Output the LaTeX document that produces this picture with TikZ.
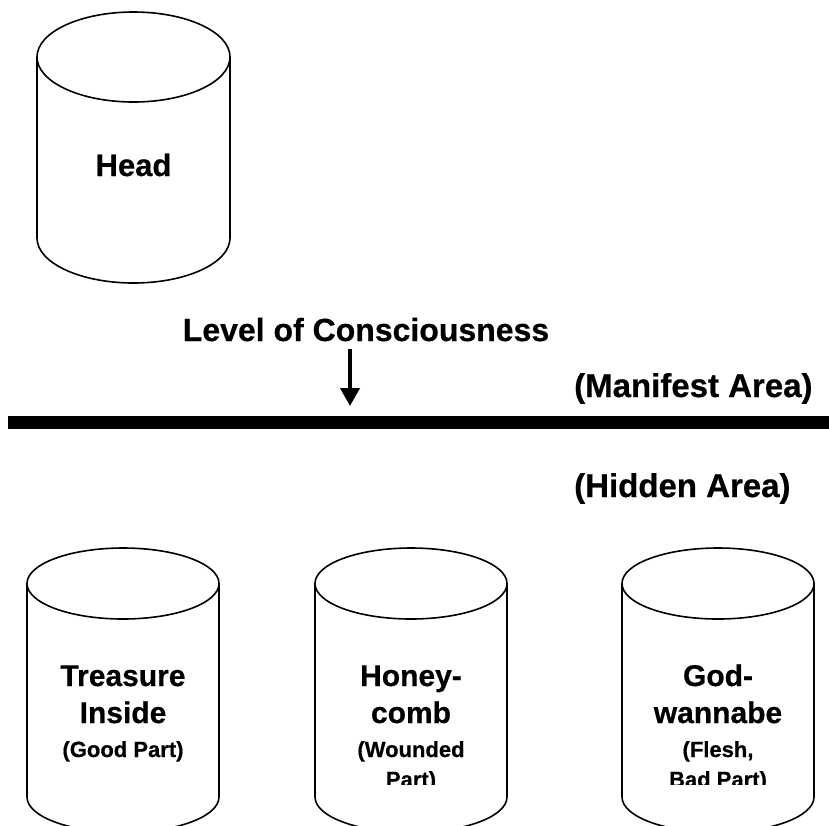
\documentclass[tikz,border=0pt]{standalone}
\usepackage{fontspec}
\setmainfont{Liberation Sans}[BoldFeatures={FakeBold=0.6}]
\usetikzlibrary{arrows.meta}
\tikzset{
  cyl/.style={draw=black, line width=1.6pt},
  lbl/.style={inner sep=0pt, anchor=base, font=\bfseries},
  big/.style={lbl, font=\bfseries\fontsize{30}{30}\selectfont},
  small/.style={lbl, font=\bfseries\fontsize{22}{22}\selectfont},
  head/.style={lbl, font=\bfseries\fontsize{31}{31}\selectfont},
  title/.style={lbl, font=\bfseries\fontsize{32}{32}\selectfont},
  area/.style={inner sep=0pt, anchor=base west, font=\bfseries\fontsize{33}{33}\selectfont},
}
\newcommand{\mycyl}[6]{% cx, top cy, bottom cy, rx, ry, name
  \draw[cyl] (#1,#2) ellipse [x radius=#4pt, y radius=#5pt];
  \draw[cyl] (#1-#4,#2) -- (#1-#4,#3)
     arc [start angle=180, end angle=360, x radius=#4pt, y radius=#5pt]
     -- (#1+#4,#2);
  \coordinate (#6) at (#1,#2);
}
\begin{document}
\begin{tikzpicture}[x=1pt,y=-1pt]
\useasboundingbox (0,0) rectangle (829,825);
\clip (0,0) rectangle (829,825);

% Head cylinder
\mycyl{133.5}{57}{238}{96.5}{45}{headcyl}
\node[head] (headtxt) at (133.5,176) {Head};

% Consciousness line
\node[title] (level) at (366,341) {Level of Consciousness};
\coordinate (arrtop) at (350,349);
\coordinate (arrtip) at (350,406);
\draw[line width=4pt, -{Triangle[width=19pt,length=18pt]}] (arrtop) -- (arrtip);
\coordinate (lineL) at (8,422.3);
\coordinate (lineR) at (829,422.3);
\draw[line width=12.5pt] (lineL) -- (lineR);
\node[area] (manifest) at (574,397) {(Manifest Area)};
\node[area] (hidden) at (574,497) {(Hidden Area)};

% Bottom cylinders
\mycyl{123}{583.5}{797}{96}{35.5}{c1}
\mycyl{411}{583.5}{797}{96}{35.5}{c2}
\mycyl{718}{583.5}{797}{96}{35.5}{c3}

\begin{scope}
\clip (0,0) rectangle (829,784);
\node[big] (t1a) at (123,686) {Treasure};
\node[big] (t1b) at (123,723) {Inside};
\node[small] (t1c) at (123,757) {(Good Part)};

\node[big] (t2a) at (411,686) {Honey-};
\node[big] (t2b) at (411,723) {comb};
\node[small] (t2c) at (411,757) {(Wounded};
\node[small] (t2d) at (411,787) {Part)};

\node[big] (t3a) at (718,686) {God-};
\node[big] (t3b) at (718,723) {wannabe};
\node[small] (t3c) at (718,757) {(Flesh,};
\node[small] (t3d) at (718,787) {Bad Part)};
\end{scope}
\end{tikzpicture}
\end{document}
